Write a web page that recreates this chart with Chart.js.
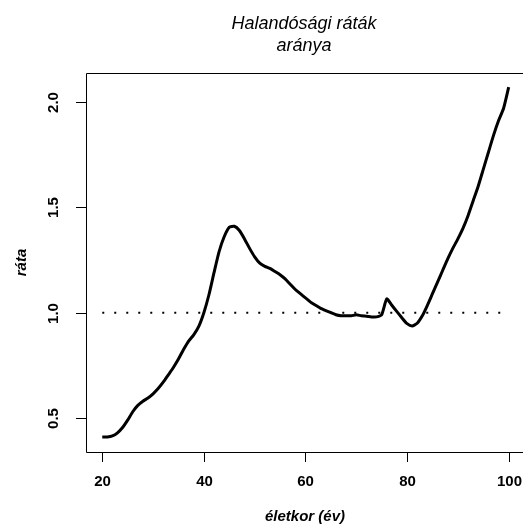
<!DOCTYPE html>
<html>
<head>
<meta charset="utf-8">
<script src="https://cdn.jsdelivr.net/npm/chart.js@4"></script>
<style>
  html, body { margin: 0; padding: 0; background: #fff; overflow: hidden; }
  canvas { display: block; }
</style>
</head>
<body>
<canvas id="rateChart" width="523" height="529"></canvas>
<script>
// adatok
const ages = [];
for (let a = 20; a <= 100; a++) ages.push(a);

const rateRatio = [
  0.41, 0.41, 0.415, 0.43, 0.455, 0.49, 0.53, 0.56, 0.58, 0.595,
  0.615, 0.64, 0.67, 0.705, 0.74, 0.78, 0.825, 0.865, 0.895, 0.935,
  1.0, 1.085, 1.19, 1.29, 1.36, 1.405, 1.41, 1.39, 1.35, 1.305,
  1.265, 1.235, 1.22, 1.21, 1.195, 1.18, 1.16, 1.135, 1.11, 1.09,
  1.07, 1.05, 1.035, 1.02, 1.01, 1.0, 0.99, 0.985, 0.985, 0.985,
  0.99, 0.985, 0.983, 0.98, 0.98, 0.99, 1.065, 1.035, 1.005, 0.975,
  0.948, 0.937, 0.95, 0.985, 1.035, 1.09, 1.145, 1.2, 1.255, 1.305,
  1.35, 1.4, 1.46, 1.53, 1.6, 1.68, 1.76, 1.84, 1.91, 1.97,
  2.07
];

const refLevel = 1.0;
const refAges = [20, 100];

const xTicks = [20, 40, 60, 80, 100];
const yTicks = [0.5, 1.0, 1.5, 2.0];
const yTickLabels = ["0.5", "1.0", "1.5", "2.0"];

const titleLines = ["Halandósági ráták", "aránya"];
const xTitle = "életkor (év)";
const yTitle = "ráta";

const FONT = '"Liberation Sans", Arial, Helvetica, sans-serif';

// tengelyek, feliratok - R stílusban rajzolva
const baseAxes = {
  id: "baseAxes",
  afterDraw(chart) {
    const ctx = chart.ctx;
    const area = chart.chartArea;
    const xs = chart.scales.x;
    const ys = chart.scales.y;
    ctx.save();
    ctx.strokeStyle = "#000";
    ctx.fillStyle = "#000";
    ctx.lineWidth = 1;

    // keret (jobb oldala kilóg a képből)
    ctx.beginPath();
    ctx.moveTo(area.right + 2, area.top + 0.5);
    ctx.lineTo(area.left + 0.5, area.top + 0.5);
    ctx.lineTo(area.left + 0.5, area.bottom + 0.5);
    ctx.lineTo(area.right + 2, area.bottom + 0.5);
    ctx.stroke();

    // x tengely
    ctx.font = "bold 15px " + FONT;
    ctx.textAlign = "center";
    ctx.textBaseline = "middle";
    xTicks.forEach(v => {
      const px = Math.round(xs.getPixelForValue(v)) + 0.5;
      ctx.beginPath();
      ctx.moveTo(px, area.bottom);
      ctx.lineTo(px, area.bottom + 10);
      ctx.stroke();
      ctx.fillText(String(v), px, 482);
    });

    // y tengely, elforgatott feliratok
    yTicks.forEach((v, i) => {
      const py = Math.round(ys.getPixelForValue(v)) + 0.5;
      ctx.beginPath();
      ctx.moveTo(area.left, py);
      ctx.lineTo(area.left - 10, py);
      ctx.stroke();
      ctx.save();
      ctx.translate(54, py);
      ctx.rotate(-Math.PI / 2);
      ctx.fillText(yTickLabels[i], 0, 0);
      ctx.restore();
    });

    // tengelycímek
    ctx.font = "italic bold 15px " + FONT;
    ctx.fillText(xTitle, (area.left + 524) / 2, 517);
    ctx.save();
    ctx.translate(22, (area.top + area.bottom) / 2);
    ctx.rotate(-Math.PI / 2);
    ctx.fillText(yTitle, 0, 0);
    ctx.restore();

    // főcím
    ctx.font = "italic 18px " + FONT;
    ctx.textBaseline = "alphabetic";
    ctx.fillText(titleLines[0], 304, 29);
    ctx.fillText(titleLines[1], 304, 51);
    ctx.restore();
  }
};

const ctx = document.getElementById("rateChart").getContext("2d");
new Chart(ctx, {
  type: "line",
  data: {
    datasets: [
      {
        label: "ráta",
        data: ages.map((a, i) => ({ x: a, y: rateRatio[i] })),
        borderColor: "#000",
        borderWidth: 3,
        borderJoinStyle: "round",
        pointRadius: 0,
        tension: 0.2,
        fill: false
      },
      {
        label: "1",
        data: refAges.map(a => ({ x: a, y: refLevel })),
        borderColor: "#000",
        borderWidth: 2,
        borderDash: [2, 10],
        borderCapStyle: "butt",
        pointRadius: 0,
        fill: false
      }
    ]
  },
  options: {
    responsive: false,
    animation: false,
    layout: { padding: { left: 86, top: 73, right: 0, bottom: 77 } },
    scales: {
      x: { type: "linear", min: 16.8, max: 102.82, display: false },
      y: { type: "linear", min: 0.339, max: 2.137, display: false }
    },
    plugins: {
      legend: { display: false },
      tooltip: { enabled: false }
    }
  },
  plugins: [baseAxes]
});
</script>
</body>
</html>
